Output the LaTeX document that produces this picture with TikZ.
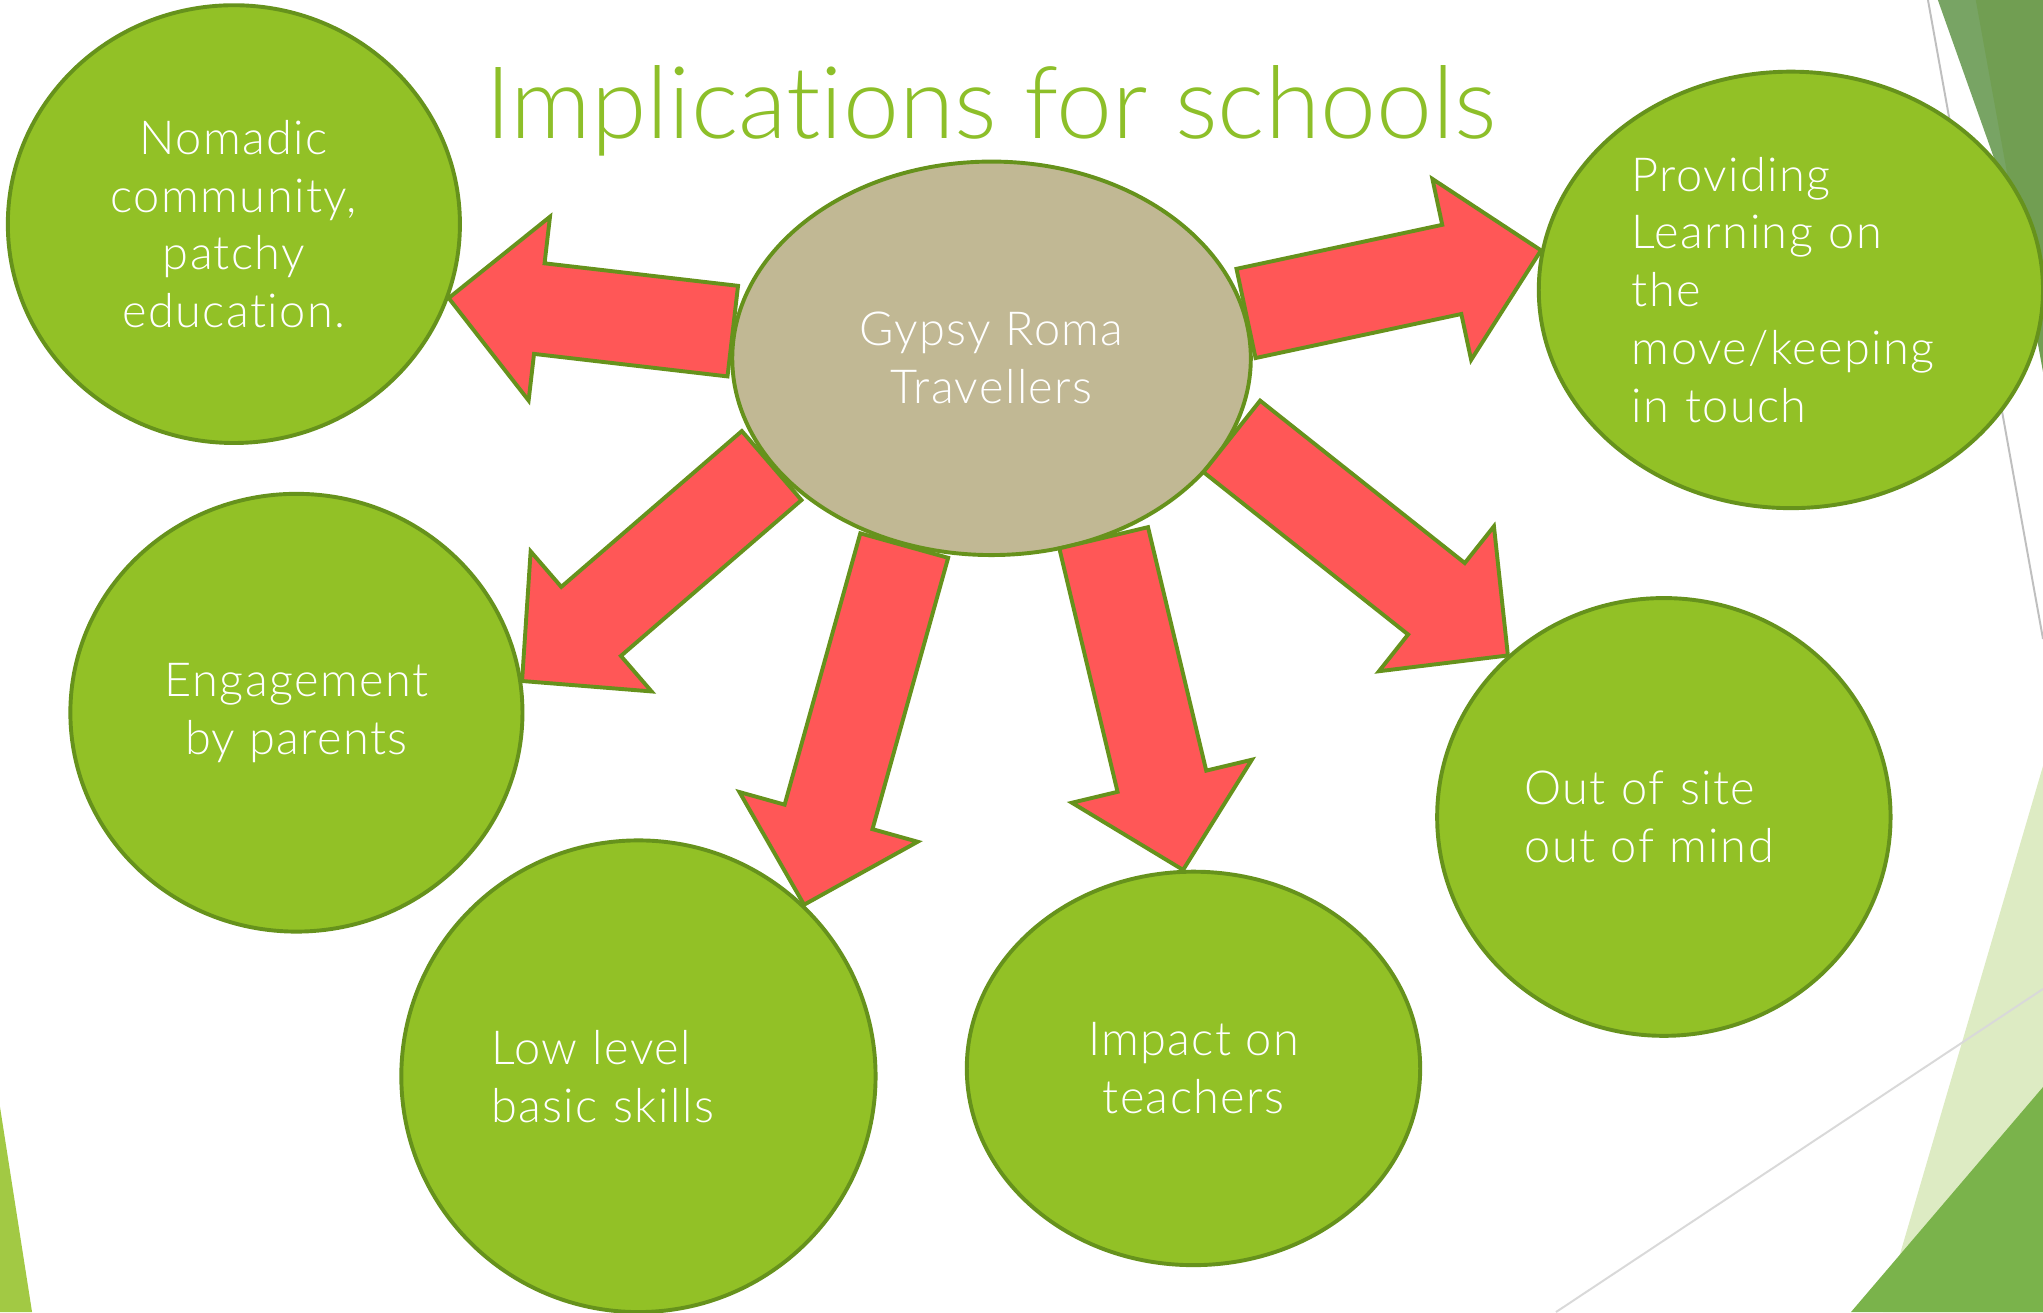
\documentclass[tikz,border=0pt]{standalone}
\usepackage{fontspec}
\setmainfont{Lato Light}[Ligatures=NoCommon]
\newfontfamily\spacedfont{Lato Light}[Ligatures=NoCommon,LetterSpace=3]
\usetikzlibrary{shapes.geometric,calc}

\definecolor{leaf}{HTML}{92C126}
\definecolor{rim}{HTML}{66921C}
\definecolor{sand}{HTML}{C1B894}
\definecolor{warn}{HTML}{FF5757}
\definecolor{headline}{HTML}{8DBF29}
\definecolor{facetA}{HTML}{78A464}
\definecolor{facetB}{HTML}{719E52}
\definecolor{facetC}{HTML}{DDEBC3}
\definecolor{facetD}{HTML}{7AB34B}
\definecolor{facetE}{HTML}{A2C944}

% block arrow: #1 name, #2 tail, #3 tip
\newcommand{\fatarrow}[3]{%
  \coordinate (#1t) at (#2);
  \coordinate (#1p) at (#3);
  \coordinate (#1h) at ($(#1p)!35pt!(#1t)$);
  \draw[fat]
    ($(#1t)!17.5pt!90:(#1p)$) -- ($(#1h)!17.5pt!90:(#1p)$) --
    ($(#1h)!35.5pt!90:(#1p)$) -- (#1p) --
    ($(#1h)!35.5pt!-90:(#1p)$) -- ($(#1h)!17.5pt!-90:(#1p)$) --
    ($(#1t)!17.5pt!-90:(#1p)$) -- cycle;
}

\begin{document}
\begin{tikzpicture}[x=0.5pt,y=-0.5pt,
  blob/.style={ellipse,draw=rim,line width=1.5pt,fill=leaf,text=white,
    inner sep=0pt,font=\spacedfont\fontsize{18}{22.2}\selectfont},
  fat/.style={fill=warn,draw=rim,line width=1.5pt,line join=miter},
  rule/.style={line width=0.75pt}]
	\useasboundingbox (0,0) rectangle (1568,1007);
	\fill[white] (0,0) rectangle (1568,1007);

	% background facets
	\fill[facetA] (1487.3,0) -- (1568,0) -- (1568,227.2) -- cycle;
	\fill[facetB] (1516.4,0) -- (1568,0) -- (1568,285.5) -- cycle;
	\fill[facetC] (1568,587.9) -- (1568,1007) -- (1445.2,1007) -- cycle;
	\fill[facetD] (1568,834.3) -- (1568,1007) -- (1420.6,1007) -- cycle;
	\fill[facetE] (0,849.6) -- (24.6,1007) -- (0,1007) -- cycle;
	\draw[rule,black!25] (1479.7,0) -- (1568,490.4);
	\draw[rule,black!15] (1194.2,1007) -- (1568,759);

	\node[text=headline,font=\fontsize{38.5}{46}\selectfont,anchor=base] (T) at (760.5,106) {Implications for schools};

	\node[blob,fill=sand,minimum width=199pt,minimum height=151pt,align=center] (G) at (761,275) {Gypsy Roma\\Travellers};
	\node[blob,minimum width=173.5pt,minimum height=168pt,align=center] (N) at (179.5,172) {Nomadic\\community,\\patchy\\education.};
	\node[blob,minimum width=193.5pt,minimum height=167.5pt,text width=122pt,align=left] (P) at (1374.5,222.5) {Providing\\Learning on\\the\\move/keeping\\in touch};
	\node[blob,minimum width=173.5pt,minimum height=168pt,align=center] (E) at (227.5,547) {Engagement\\by parents};
	\node[blob,minimum width=182pt,minimum height=181pt,text width=113pt,align=left] (L) at (490,826) {Low level\\basic skills};
	\node[blob,minimum width=174pt,minimum height=151pt,align=center] (I) at (916,820) {Impact on\\teachers};
	\node[blob,minimum width=174pt,minimum height=168pt,text width=107pt,align=left] (O) at (1277,627) {Out of site\\out of mind};

	\fatarrow{a}{G.174.7}{N.-19.1}
	\fatarrow{b}{G.10}{P.171.6}
	\fatarrow{c}{G.206.3}{E.8.2}
	\fatarrow{d}{G.245.4}{L.46.1}
	\fatarrow{e}{G.302.9}{I.93.5}
	\fatarrow{f}{G.342.7}{O.134.8}
\end{tikzpicture}
\end{document}
